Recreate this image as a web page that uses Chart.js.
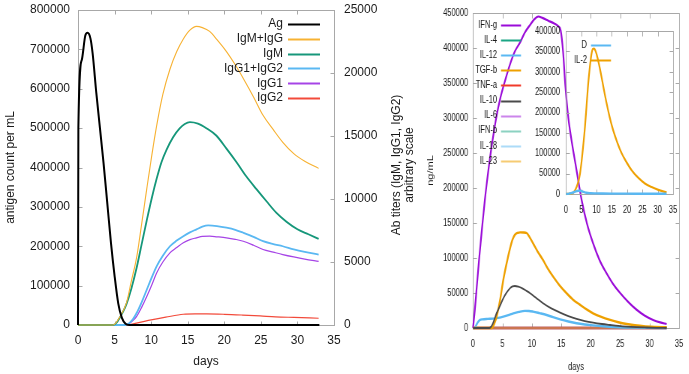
<!DOCTYPE html>
<html><head><meta charset="utf-8">
<script src="https://cdn.jsdelivr.net/npm/chart.js@4.4.0/dist/chart.umd.min.js"></script>
<style>
html,body{margin:0;padding:0;background:#fff;}
#wrap{position:relative;width:689px;height:374px;overflow:hidden;background:#fff;}
#wrap canvas{position:absolute;top:0;}
#c1{left:0;}
#c2,#c3{left:400px;transform-origin:0 0;transform:scaleX(0.75);}
</style></head><body>
<div id="wrap">
<canvas id="c1" width="689" height="374"></canvas>
<canvas id="c2" width="386" height="374"></canvas>
<canvas id="c3" width="386" height="374"></canvas>
</div>
<script>
// ---------- DATA ----------
const xTickValues = [0, 5, 10, 15, 20, 25, 30, 35];
const agTickValues = [0, 100000, 200000, 300000, 400000, 500000, 600000, 700000, 800000];
const abTickValues = [0, 5000, 10000, 15000, 20000, 25000];
const cytoTickValues = [0, 50000, 100000, 150000, 200000, 250000, 300000, 350000, 400000, 450000];
const insetTickValues = [0, 50000, 100000, 150000, 200000, 250000, 300000, 350000, 400000];

// left panel: [day, value]
const ag = [[0,0],[0.05,500000],[0.5,672000],[1.0,735000],[1.3,742000],[1.7,728000],[2.0,690000],[2.5,590000],[3,500000],[3.5,410000],[4,310000],[4.5,210000],[5,125000],[5.5,55000],[6,18000],[6.5,3000],[7,0],[33,0]];
const igmIgg = [[0,0],[4.8,0],[5.74,660],[6.65,1800],[7.3,3500],[8,5300],[8.7,8000],[9.4,10800],[10.1,13500],[10.75,15800],[11.6,18300],[12.57,20300],[13.5,21700],[14.4,22700],[15.3,23400],[16.2,23700],[17,23600],[18,23300],[19,22650],[20.3,21700],[21.5,20650],[22.6,19570],[24,18100],[25.3,16640],[26.7,15500],[28,14500],[29.5,13600],[31,13000],[32.9,12430]];
const igm = [[0,0],[4.8,0],[5.3,200],[5.74,620],[6.2,1100],[6.65,1700],[7.3,2900],[8,4500],[8.7,6400],[9.4,8300],[10.1,10100],[10.75,11600],[11.4,12900],[12.1,13900],[13,14900],[13.9,15600],[14.6,15950],[15.3,16100],[16.4,15980],[17.6,15600],[18.9,15040],[20.3,14000],[21.7,12900],[23,11800],[24.4,10780],[25.8,9800],[27.1,8920],[28.5,8200],[30,7600],[31.5,7200],[32.9,6840]];
const igg1Igg2 = [[0,0],[6.5,0],[7,150],[7.5,450],[8,930],[8.7,1800],[9.4,2800],[10.1,3800],[10.75,4660],[11.6,5500],[12.57,6250],[13.5,6700],[14.4,7050],[15.3,7350],[16.2,7590],[17,7800],[17.8,7900],[19,7850],[20.3,7720],[21.5,7550],[22.6,7320],[24,7000],[25.3,6650],[26.7,6420],[28,6250],[29.5,6000],[31,5800],[32.9,5590]];
const igg1 = [[0,0],[6.5,0],[7,120],[7.5,350],[8,660],[8.7,1400],[9.4,2260],[10.1,3200],[10.75,4130],[11.6,5000],[12.57,5730],[13.5,6150],[14.4,6530],[15.3,6780],[16.2,6920],[17,7030],[18,7050],[19,7000],[20.3,6920],[21.5,6800],[22.6,6650],[24,6330],[25.3,5990],[26.7,5780],[28,5590],[29.5,5400],[31,5230],[32.9,5050]];
const igg2 = [[0,0],[6.5,0],[8,150],[10,400],[12,620],[14.4,855],[16,880],[17.6,880],[20,850],[22.5,790],[24.9,720],[27,650],[29.5,600],[32.9,535]];

// right panel: [day, ng/mL]
const ifng = [[0,0],[0.3,25000],[0.6,55000],[1,95000],[1.5,140000],[2,182000],[2.5,218000],[3,250000],[3.5,278000],[4,303000],[4.6,327000],[5.4,352000],[6.3,377000],[7.1,395000],[8,408000],[8.8,422000],[9.7,433000],[10.4,441000],[11.1,445000],[11.8,443000],[12.8,439000],[13.8,435000],[14.5,431000],[14.9,425000],[15.3,395000],[15.7,345000],[16.2,300000],[16.8,265000],[17.5,230000],[18.45,183000],[19.4,148000],[20.4,121000],[21.5,97000],[22.7,78000],[23.8,63000],[25,50000],[26.4,37000],[27.8,26000],[29.2,17500],[30.6,11500],[31.8,8000],[32.9,5700]];
const il4 = [[0,0],[32.9,0]];
const il12 = [[0,0],[0.3,0],[0.6,5000],[0.9,9000],[1.2,11500],[1.6,12400],[2.5,13000],[3.45,13400],[4.3,14500],[5.15,16200],[6,18500],[6.85,21000],[7.8,23000],[8.8,24400],[9.5,24300],[10.2,23400],[11.3,21200],[12.5,18600],[13.6,15500],[14.8,12400],[16.2,9300],[17.6,6700],[19,5000],[20.4,3800],[22.1,2500],[23.9,1400],[25.6,800],[27.4,500],[30,200],[32.9,0]];
const tgfb = [[0,0],[3.2,0],[3.6,6000],[4,16000],[4.6,40000],[5.15,69000],[5.7,92000],[6.3,114000],[6.7,126000],[7.1,133000],[7.6,136000],[8,136600],[8.6,136500],[9.1,135700],[9.6,130000],[10.2,121000],[11,109000],[11.9,97000],[12.7,85000],[13.6,73500],[14.7,61000],[15.9,49700],[17,40500],[18.2,33000],[19.3,26500],[20.4,21000],[21.8,15800],[23.3,11500],[24.7,8200],[26.1,5700],[27.5,4000],[29,2600],[31,1600],[32.9,1000]];
const tnfa = [[0,0],[32.9,0]];
const il10 = [[0,0],[2.8,0],[3.3,5000],[4,21000],[4.6,32000],[5.15,42500],[5.7,50500],[6.3,57000],[6.7,59500],[7.1,60000],[7.7,59000],[8.3,57000],[9,53500],[9.7,49700],[10.8,42500],[11.9,35400],[13.3,28000],[14.8,22000],[16.2,17000],[17.6,12900],[19,9900],[20.4,7600],[21.9,5700],[23.3,4300],[24.7,3000],[26.1,2000],[27.8,1200],[29.5,700],[31.2,300],[32.9,0]];
const il6 = [[0,0],[32.9,0]];
const ifnb = [[0,0],[32.9,0]];
const il18 = [[0,0],[32.9,0]];
const il23 = [[0,0],[32.9,0]];

// inset: [day, value]
const dCells = [[0,0],[1,1000],[1.9,2500],[3,6000],[4,8000],[4.6,8000],[5.5,6000],[6.7,3000],[8,2000],[9.6,1500],[12,1100],[16,900],[20,800],[25,700],[32.9,600]];
const il2 = [[0,0],[1.9,1000],[2.7,6000],[3.5,18000],[4.1,32000],[4.6,51000],[5.1,80000],[5.6,116000],[6.2,165000],[6.7,214000],[7.2,265000],[7.8,312000],[8.3,342000],[8.8,356000],[9.2,357000],[9.6,352000],[10.0,343000],[10.8,318000],[11.6,288000],[12.4,256000],[13.3,222000],[14.3,188000],[15.4,157000],[16.8,126000],[18.2,100000],[19.8,78000],[21.4,59000],[23.6,40000],[25.8,26000],[28,17000],[30.2,10000],[32.9,4000]];

// ---------- HELPERS ----------
const pts = a => a.map(p => ({x: p[0], y: p[1]}));
const TXT = '#1a1a1a';
const FR = '#a8a8a8';
const SANS = "'Liberation Sans', Arial, sans-serif";

function ds(label, data, color, width, extra) {
  return Object.assign({label, data: pts(data), borderColor: color, backgroundColor: color,
    borderWidth: width, pointRadius: 0, fill: false, cubicInterpolationMode: 'monotone', clip: false}, extra || {});
}
function fixTicks(arr) { return s => { s.ticks = arr.map(v => ({value: v})); }; }
function fitW(w) { return s => { s.width = w; s.paddingTop = 0; s.paddingBottom = 0; s.paddingLeft = 0; s.paddingRight = 0; }; }
function fitH(h) { return s => { s.height = h; s.paddingTop = 0; s.paddingBottom = 0; s.paddingLeft = 0; s.paddingRight = 0; }; }

const framePlugin = {
  id: 'frame',
  beforeDatasetsDraw(chart, args, o) {
    const {ctx, chartArea: a, scales} = chart;
    const L = Math.round(a.left) + 0.5, R = Math.round(a.right) + 0.5, T = Math.round(a.top) + 0.5, B = Math.round(a.bottom) + 0.5;
    ctx.save();
    ctx.strokeStyle = o.color; ctx.lineWidth = 1;
    ctx.strokeRect(L, T, R - L, B - T);
    ctx.beginPath();
    const n = o.len;
    scales.x.ticks.forEach(t => { const p = Math.round(scales.x.getPixelForValue(t.value)) + 0.5;
      ctx.moveTo(p, B); ctx.lineTo(p, B - n); ctx.moveTo(p, T); ctx.lineTo(p, T + n); });
    scales.y.ticks.forEach(t => { const p = Math.round(scales.y.getPixelForValue(t.value)) + 0.5;
      ctx.moveTo(L, p); ctx.lineTo(L + n, p); if (o.mirrorY) { ctx.moveTo(R, p); ctx.lineTo(R - n, p); } });
    if (scales.y2) scales.y2.ticks.forEach(t => { const p = Math.round(scales.y2.getPixelForValue(t.value)) + 0.5;
      ctx.moveTo(R, p); ctx.lineTo(R - n, p); });
    ctx.stroke();
    ctx.restore();
  }
};

const keyPlugin = {
  id: 'key',
  afterDatasetsDraw(chart, args, o) {
    const ctx = chart.ctx;
    ctx.save();
    ctx.font = o.font; ctx.textAlign = 'right'; ctx.textBaseline = 'middle';
    chart.data.datasets.forEach((d, i) => {
      const y = o.y0 + i * o.dy;
      ctx.fillStyle = TXT;
      ctx.fillText(d.label, o.textRight, y);
      ctx.strokeStyle = d.borderColor; ctx.lineWidth = o.lw || d.borderWidth;
      ctx.beginPath(); ctx.moveTo(o.x1, Math.round(y) + 0.5); ctx.lineTo(o.x2, Math.round(y) + 0.5); ctx.stroke();
    });
    ctx.restore();
  }
};

const sideTitlePlugin = {
  id: 'sideTitle',
  afterDraw(chart, args, o) {
    if (!o.lines) return;
    const ctx = chart.ctx;
    ctx.save();
    ctx.font = o.font; ctx.fillStyle = TXT; ctx.textAlign = 'center'; ctx.textBaseline = 'middle';
    o.lines.forEach((s, i) => {
      ctx.save(); ctx.translate(o.xs[i], o.y); ctx.rotate(-Math.PI / 2); ctx.fillText(s, 0, 0); ctx.restore();
    });
    ctx.restore();
  }
};

const common = {responsive: false, animation: false, events: [],
  plugins: {legend: {display: false}, tooltip: {enabled: false}}};
const noGrid = {display: false, drawTicks: false};

function xAxis(font, pad, h, title, titlePad) {
  return {type: 'linear', min: 0, max: 35, afterBuildTicks: fixTicks(xTickValues), afterFit: fitH(h),
    grid: noGrid, border: {display: false},
    ticks: {font, color: TXT, padding: pad, maxRotation: 0, autoSkip: false, callback: v => String(v)},
    title: title ? {display: true, text: title, font, color: TXT, padding: {top: 0, bottom: titlePad}} : {display: false}};
}

// ---------- LEFT CHART ----------
const f12 = {family: SANS, size: 12};
new Chart(document.getElementById('c1'), {
  type: 'line',
  data: {datasets: [
    ds('Ag', ag, '#000000', 2, {yAxisID: 'y'}),
    ds('IgM+IgG', igmIgg, '#f7b233', 1.1, {yAxisID: 'y2'}),
    ds('IgM', igm, '#16977a', 1.8, {yAxisID: 'y2'}),
    ds('IgG1+IgG2', igg1Igg2, '#5ab8f2', 1.8, {yAxisID: 'y2'}),
    ds('IgG1', igg1, '#a644e6', 1.2, {yAxisID: 'y2'}),
    ds('IgG2', igg2, '#f24a3a', 1.2, {yAxisID: 'y2'})
  ]},
  options: Object.assign({}, common, {
    layout: {padding: {left: 0, top: 10, right: 269, bottom: 0}},
    scales: {
      x: xAxis(f12, 8, 49, 'days', 5),
      y: {type: 'linear', position: 'left', min: 0, max: 800000, afterBuildTicks: fixTicks(agTickValues), afterFit: fitW(78),
        grid: noGrid, border: {display: false},
        ticks: {font: f12, color: TXT, padding: 8, callback: v => String(v)},
        title: {display: true, text: 'antigen count per mL', font: f12, color: TXT, padding: {top: 3, bottom: 0}}},
      y2: {type: 'linear', position: 'right', min: 0, max: 25000, afterBuildTicks: fixTicks(abTickValues), afterFit: fitW(86),
        grid: noGrid, border: {display: false},
        ticks: {font: f12, color: TXT, padding: 10, callback: v => String(v)}}
    },
    plugins: Object.assign({}, common.plugins, {
      frame: {color: FR, len: 4, mirrorY: false},
      key: {font: '12px ' + SANS, textRight: 283, x1: 288, x2: 320, y0: 24, dy: 14.8, lw: 2},
      sideTitle: {lines: ['Ab titers (IgM, IgG1, IgG2)', 'arbitrary scale'], xs: [397, 410], y: 165, font: '12px ' + SANS}
    })
  }),
  plugins: [framePlugin, keyPlugin, sideTitlePlugin]
});

// ---------- RIGHT CHART (canvas squeezed horizontally by 0.75) ----------
const f10 = {family: SANS, size: 10};
new Chart(document.getElementById('c2'), {
  type: 'line',
  data: {datasets: [
    ds('IFN-g', ifng, '#9a0bd8', 2.2, {order: 3}),
    ds('IL-4', il4, '#1aa584', 2, {order: 10}),
    ds('IL-12', il12, '#5ab8f2', 2.4, {order: 4}),
    ds('TGF-b', tgfb, '#eea000', 2.4, {order: 2}),
    ds('TNF-a', tnfa, '#f03a2a', 2.6, {order: 8}),
    ds('IL-10', il10, '#4a4a4a', 1.8, {order: 1}),
    ds('IL-6', il6, 'rgba(154,11,216,0.5)', 2.4, {order: 6}),
    ds('IFN-b', ifnb, 'rgba(26,165,132,0.5)', 2, {order: 9}),
    ds('IL-18', il18, 'rgba(90,184,242,0.5)', 2.4, {order: 7}),
    ds('IL-23', il23, 'rgba(238,160,0,0.55)', 2.6, {order: 5})
  ]},
  options: Object.assign({}, common, {
    layout: {padding: {left: 30, top: 13, right: 14, bottom: 0}},
    scales: {
      x: xAxis(f10, 10, 46, 'days', 1),
      y: {type: 'linear', position: 'left', min: 0, max: 450000, afterBuildTicks: fixTicks(cytoTickValues), afterFit: fitW(67.33),
        grid: noGrid, border: {display: false},
        ticks: {font: f10, color: TXT, padding: 6.5, callback: v => String(v)},
        title: {display: true, text: 'ng/mL', font: {family: SANS, size: 11}, color: TXT, padding: {top: 4.5, bottom: 0}}}
    },
    plugins: Object.assign({}, common.plugins, {
      frame: {color: FR, len: 5, mirrorY: true},
      key: {font: '10px ' + SANS, textRight: 129.3, x1: 134.7, x2: 161.3, y0: 25, dy: 15.1, lw: 2}
    })
  }),
  plugins: [framePlugin, keyPlugin]
});

// ---------- INSET ----------
new Chart(document.getElementById('c3'), {
  type: 'line',
  data: {datasets: [
    ds('D', dCells, '#5ab8f2', 2.4, {order: 1}),
    ds('IL-2', il2, '#eea000', 2.2, {order: 2})
  ]},
  options: Object.assign({}, common, {
    layout: {padding: {left: 120, top: 31, right: 22, bottom: 156}},
    scales: {
      x: xAxis(f10, 10, 24, null, 0),
      y: {type: 'linear', position: 'left', min: 0, max: 400000, afterBuildTicks: fixTicks(insetTickValues), afterFit: fitW(101.33),
        grid: noGrid, border: {display: false},
        ticks: {font: f10, color: TXT, padding: 8, callback: v => String(v)}}
    },
    plugins: Object.assign({}, common.plugins, {
      frame: {color: FR, len: 5, mirrorY: true},
      key: {font: '10px ' + SANS, textRight: 249.3, x1: 254.7, x2: 281.3, y0: 45, dy: 15, lw: 2}
    })
  }),
  plugins: [framePlugin, keyPlugin]
});
</script>
</body></html>
